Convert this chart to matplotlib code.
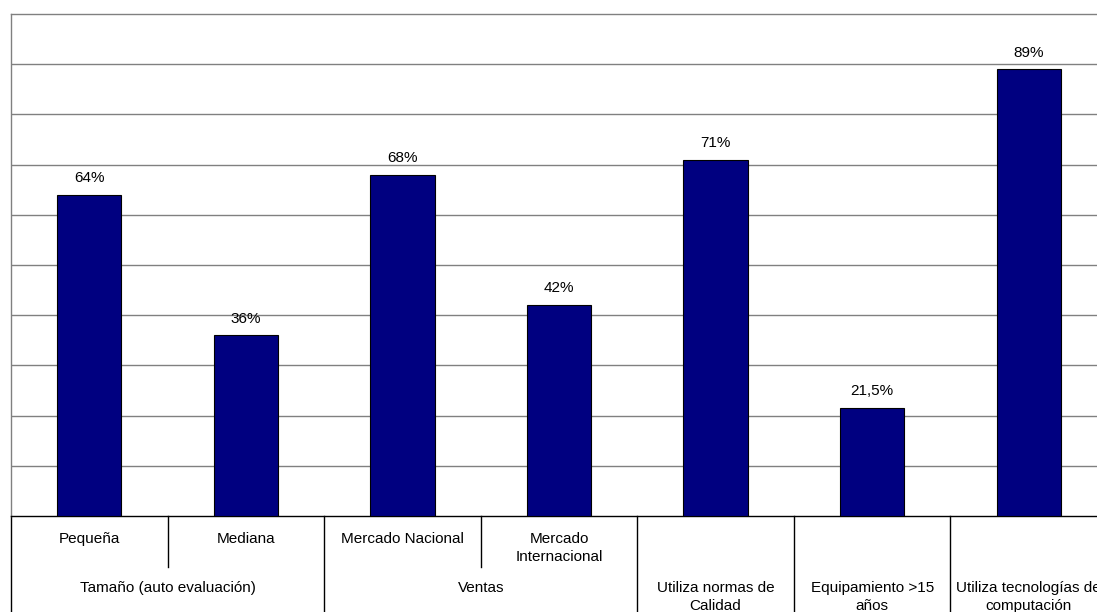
import matplotlib
matplotlib.use("Agg")
import matplotlib.pyplot as plt

# Datos
subcategorias = ["Pequeña", "Mediana", "Mercado Nacional", "Mercado\nInternacional", "", "", ""]
valores = [64, 36, 68, 42, 71, 21.5, 89]
etiquetas = ["64%", "36%", "68%", "42%", "71%", "21,5%", "89%"]
grupos = ["Tamaño (auto evaluación)", "Ventas", "Utiliza normas de\nCalidad",
          "Equipamiento >15\naños", "Utiliza tecnologías de\ncomputación"]
grupo_inicio = [0, 2, 4, 5, 6]
grupo_fin = [2, 4, 5, 6, 7]

W, H = 1097, 612
AX_H = 502  # alto del área de trazado en px
FUENTE = dict(fontsize=11, family="Liberation Sans", color="black")

fig = plt.figure(figsize=(W / 100, H / 100), dpi=100, facecolor="white")
ax = fig.add_axes([11 / W, 96 / H, 1096 / W, AX_H / H])

x = list(range(len(valores)))
ax.bar(x, valores, width=0.41, color="#000080", edgecolor="black",
       linewidth=0.8, zorder=3)

for xi, v, t in zip(x, valores, etiquetas):
    ax.annotate(t, (xi, v), xytext=(0, 12), textcoords="offset points",
                ha="center", va="center", **FUENTE)

ax.set_xlim(-0.5, 6.5)
ax.set_ylim(0, 100)
ax.set_yticks(range(10, 100, 10))
ax.yaxis.grid(True, color="#808080", linewidth=1.0, zorder=0)
ax.set_axisbelow(True)
ax.tick_params(left=False, bottom=False, labelleft=False, labelbottom=False)
ax.set_xticks([])

for lado in ["top", "left"]:
    ax.spines[lado].set_color("#808080")
    ax.spines[lado].set_linewidth(1.0)
ax.spines["right"].set_visible(False)
ax.spines["bottom"].set_color("black")
ax.spines["bottom"].set_linewidth(1.0)

tr = ax.get_xaxis_transform()


def abajo(px):
    return -px / AX_H


# Tabla de categorías bajo el eje
ax.plot([-0.5, -0.5], [0, abajo(110)], transform=tr, color="black",
        linewidth=1.0, clip_on=False)
fronteras_grupo = set(grupo_inicio[1:])
for b in range(1, len(valores)):
    fondo = 110 if b in fronteras_grupo else 51
    ax.plot([b - 0.5, b - 0.5], [0, abajo(fondo)], transform=tr,
            color="black", linewidth=1.0, clip_on=False)

for xi, s in enumerate(subcategorias):
    if s:
        ax.text(xi, abajo(16), s, transform=tr, ha="center", va="top",
                linespacing=1.35, **FUENTE)

for g, a, b in zip(grupos, grupo_inicio, grupo_fin):
    ax.text((a + b - 1) / 2, abajo(65), g, transform=tr, ha="center",
            va="top", linespacing=1.35, **FUENTE)

fig.savefig("out.png", dpi=100, facecolor="white")
